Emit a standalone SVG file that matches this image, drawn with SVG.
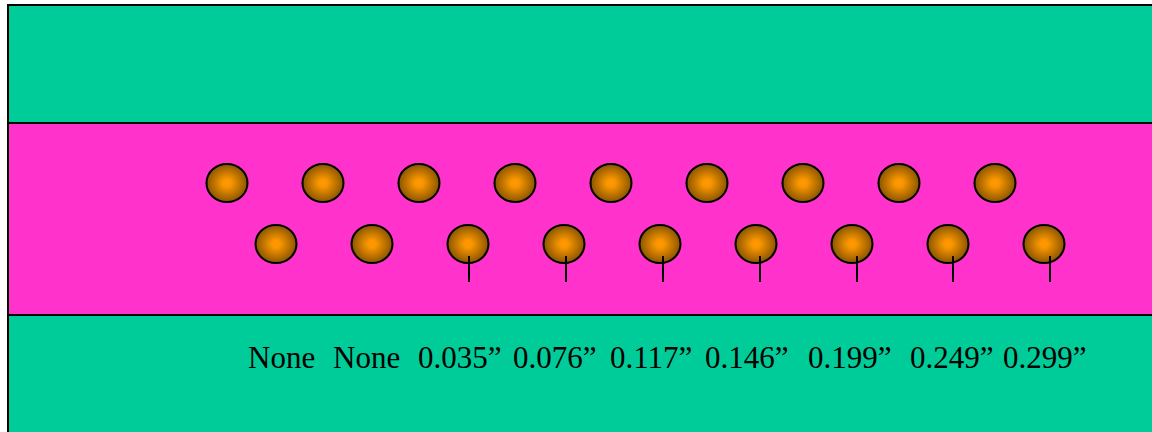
<svg xmlns="http://www.w3.org/2000/svg" width="1152" height="432" viewBox="0 0 1152 432">
<style>
.band{stroke:#000;stroke-width:2}
.green{fill:#00CC99}
.pink{fill:#FF33CC}
.ball{fill:url(#ballGrad);stroke:#000;stroke-width:2}
.stem{stroke:#000;stroke-width:2}
.lbl{font-family:"Liberation Serif","Times New Roman",serif;font-size:31px;fill:#000}
</style>
<defs>
<radialGradient id="ballGrad" cx="50%" cy="50%" r="50%">
<stop offset="0" stop-color="#FF9900"/>
<stop offset="0.2" stop-color="#FA9600"/>
<stop offset="1" stop-color="#8A5500"/>
</radialGradient>
</defs>
<rect width="1152" height="432" fill="#fff"/>
<g id="top-band"><rect class="band green" x="8" y="5" width="1160" height="118"/></g>
<g id="middle-band"><rect class="band pink" x="8" y="123" width="1160" height="192"/></g>
<g id="bottom-band"><rect class="band green" x="8" y="315" width="1160" height="130"/></g>
<g id="top-row">
<ellipse class="ball" cx="227" cy="183" rx="20.5" ry="19"/>
<ellipse class="ball" cx="323" cy="183" rx="20.5" ry="19"/>
<ellipse class="ball" cx="419" cy="183" rx="20.5" ry="19"/>
<ellipse class="ball" cx="515" cy="183" rx="20.5" ry="19"/>
<ellipse class="ball" cx="611" cy="183" rx="20.5" ry="19"/>
<ellipse class="ball" cx="707" cy="183" rx="20.5" ry="19"/>
<ellipse class="ball" cx="803" cy="183" rx="20.5" ry="19"/>
<ellipse class="ball" cx="899" cy="183" rx="20.5" ry="19"/>
<ellipse class="ball" cx="995" cy="183" rx="20.5" ry="19"/>
</g>
<g id="bottom-row">
<ellipse class="ball" cx="276" cy="244" rx="20.5" ry="19"/>
<ellipse class="ball" cx="372" cy="244" rx="20.5" ry="19"/>
<ellipse class="ball" cx="468" cy="244" rx="20.5" ry="19"/>
<ellipse class="ball" cx="564" cy="244" rx="20.5" ry="19"/>
<ellipse class="ball" cx="660" cy="244" rx="20.5" ry="19"/>
<ellipse class="ball" cx="756" cy="244" rx="20.5" ry="19"/>
<ellipse class="ball" cx="852" cy="244" rx="20.5" ry="19"/>
<ellipse class="ball" cx="948" cy="244" rx="20.5" ry="19"/>
<ellipse class="ball" cx="1044" cy="244" rx="20.5" ry="19"/>
</g>
<g id="stems">
<line class="stem" x1="469" y1="256" x2="469" y2="282"/>
<line class="stem" x1="566" y1="256" x2="566" y2="282"/>
<line class="stem" x1="663" y1="256" x2="663" y2="282"/>
<line class="stem" x1="760" y1="256" x2="760" y2="282"/>
<line class="stem" x1="857" y1="256" x2="857" y2="282"/>
<line class="stem" x1="953" y1="256" x2="953" y2="282"/>
<line class="stem" x1="1050" y1="256" x2="1050" y2="282"/>
</g>
<g id="labels">
<text class="lbl" y="368"><tspan x="248">None</tspan><tspan x="333">None</tspan><tspan x="418">0.035”</tspan><tspan x="513">0.076”</tspan><tspan x="610">0.117”</tspan><tspan x="705">0.146”</tspan><tspan x="808">0.199”</tspan><tspan x="910">0.249”</tspan><tspan x="1003">0.299”</tspan></text>
</g>
</svg>
